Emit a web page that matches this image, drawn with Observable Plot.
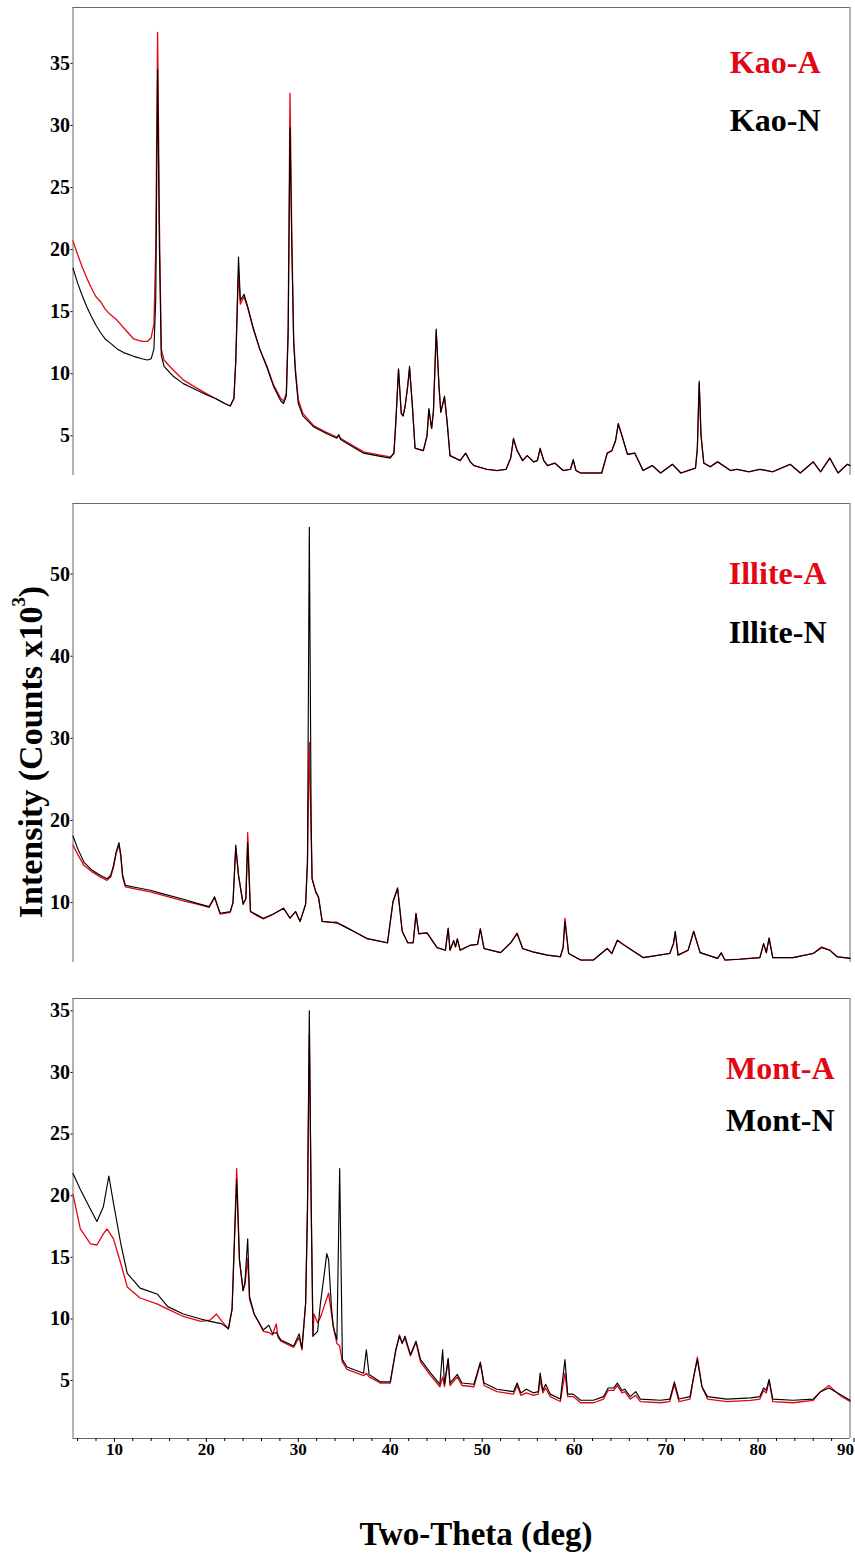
<!DOCTYPE html>
<html><head><meta charset="utf-8">
<script src="https://cdn.jsdelivr.net/npm/d3@7"></script>
<script src="https://cdn.jsdelivr.net/npm/@observablehq/plot@0.6"></script>
<style>
body{margin:0;background:#fff;}
#wrap{position:relative;width:855px;height:1559px;font-family:"Liberation Serif","Times New Roman",serif;}
.panel{position:absolute;left:0;}
.lab{position:absolute;font-weight:bold;white-space:nowrap;color:#000;}
</style></head><body><div id="wrap">
<div class="panel" id="p1" style="top:0px"></div>
<div class="panel" id="p2" style="top:490px"></div>
<div class="panel" id="p3" style="top:985px"></div>
<div class="lab" style="left:31px;top:752px;font-size:34px;transform:translate(-50%,-50%) rotate(-90deg);">Intensity (Counts x10<sup style="font-size:0.55em;vertical-align:0.9em;line-height:0">3</sup>)</div>
<div class="lab" style="left:476px;top:1518px;font-size:33px;line-height:33px;transform:translateX(-50%);">Two-Theta (deg)</div>
</div>
<script>
// ---- data (2θ in degrees, intensity in counts x10^3) ----
const xTicks = [10, 20, 30, 40, 50, 60, 70, 80];
const xLastTick = [90];
const xMinorTicks = [6, 8, 12, 14, 16, 18, 22, 24, 26, 28, 32, 34, 36, 38, 42, 44, 46, 48, 52, 54, 56, 58, 62, 64, 66, 68, 72, 74, 76, 78, 82, 84, 86, 88];
const kaoTicks = [5, 10, 15, 20, 25, 30, 35];
const illiteTicks = [10, 20, 30, 40, 50];
const montTicks = [5, 10, 15, 20, 25, 30, 35];
const seriesLabels = ["Kao-A", "Kao-N", "Illite-A", "Illite-N", "Mont-A", "Mont-N"];

const kaoN = [[5.5,18.5],[6,17.3],[6.5,16.3],[7,15.4],[7.5,14.6],[8,13.9],[8.5,13.3],[9,12.8],[9.5,12.5],[10.3,12.0],[11,11.7],[12.1,11.4],[13,11.2],[13.6,11.1],[14.0,11.2],[14.3,12.0],[14.5,16],[14.7,34.5],[14.9,20],[15.1,11.5],[15.4,10.6],[16,10.1],[16.4,9.8],[17.5,9.2],[18.6,8.8],[20,8.3],[21,8.0],[22,7.6],[22.6,7.4],[23.0,8.0],[23.2,11],[23.5,19.4],[23.7,15.9],[24.1,16.4],[24.5,15.4],[25.1,13.7],[25.8,12.0],[26.6,10.5],[27.3,9.0],[28.1,7.8],[28.4,7.6],[28.7,8.2],[28.9,13.2],[29.1,29.8],[29.3,20],[29.5,12.4],[29.7,10],[30.0,7.6],[30.5,6.6],[31.7,5.7],[33,5.2],[34.2,4.8],[34.4,5.1],[34.6,4.7],[35.5,4.3],[37.1,3.6],[38.5,3.4],[40,3.2],[40.4,3.6],[40.6,6],[40.9,10.4],[41.2,6.8],[41.4,6.6],[41.6,7.3],[41.9,9],[42.1,10.6],[42.4,7.5],[42.7,4.0],[43.6,3.8],[44.0,5],[44.2,7.2],[44.5,5.6],[44.7,7],[45.0,13.6],[45.3,9],[45.5,6.9],[45.9,8.2],[46.2,6],[46.5,3.4],[47.6,3.0],[48.2,3.6],[48.7,2.9],[49.1,2.6],[50.5,2.3],[51.6,2.2],[52.6,2.3],[53.1,3.2],[53.4,4.8],[53.8,3.8],[54.4,3.0],[54.9,3.4],[55.6,2.9],[56.0,3.0],[56.3,4.0],[56.7,3.0],[57.1,2.6],[57.9,2.8],[58.8,2.2],[59.6,2.3],[59.9,3.1],[60.2,2.2],[60.7,2.0],[63,2.0],[63.6,3.6],[64.1,3.8],[64.5,4.6],[64.8,6.0],[65.2,5.0],[65.8,3.5],[66.6,3.6],[67.5,2.2],[68.5,2.6],[69.4,2.0],[70.7,2.7],[71.6,2.0],[73.2,2.4],[73.4,4],[73.6,9.4],[73.8,5],[74.1,2.8],[74.8,2.5],[75.6,2.9],[77,2.2],[77.7,2.3],[79,2.1],[80.2,2.3],[81.6,2.1],[83.5,2.7],[84.6,2.0],[86,2.9],[86.8,2.1],[87.8,3.2],[88.7,2.0],[89.7,2.7],[90,2.6]];
const kaoA = [[5.5,20.7],[6,19.6],[6.5,18.6],[7,17.7],[7.5,16.9],[8,16.2],[8.5,15.8],[9,15.2],[9.5,14.8],[10.3,14.3],[11,13.7],[12.1,12.8],[13,12.6],[13.6,12.6],[14.0,12.9],[14.3,14],[14.5,20],[14.7,37.5],[14.9,22],[15.1,12.0],[15.4,11.1],[16,10.6],[16.4,10.3],[17.5,9.5],[18.6,9.0],[20,8.4],[21,8.0],[22,7.6],[22.6,7.4],[23.0,8.0],[23.2,11],[23.5,18.3],[23.7,15.6],[24.1,16.2],[24.5,15.3],[25.1,13.6],[25.8,12.0],[26.6,10.6],[27.3,9.1],[28.1,8.0],[28.4,7.8],[28.7,8.4],[28.9,13.8],[29.1,32.6],[29.3,21],[29.5,12.8],[29.7,10.3],[30.0,7.9],[30.5,6.8],[31.7,5.8],[33,5.3],[34.2,4.9],[34.4,5.0],[34.6,4.8],[35.5,4.4],[37.1,3.7],[38.5,3.5],[40,3.3],[40.4,3.6],[40.6,6],[40.9,10.3],[41.2,6.8],[41.4,6.6],[41.6,7.3],[41.9,9],[42.1,10.4],[42.4,7.5],[42.7,4.0],[43.6,3.8],[44.0,5],[44.2,7.1],[44.5,5.6],[44.7,7],[45.0,13.4],[45.3,9],[45.5,6.9],[45.9,8.1],[46.2,6],[46.5,3.4],[47.6,3.0],[48.2,3.6],[48.7,2.9],[49.1,2.6],[50.5,2.3],[51.6,2.2],[52.6,2.3],[53.1,3.2],[53.4,4.7],[53.8,3.8],[54.4,3.0],[54.9,3.4],[55.6,2.9],[56.0,3.0],[56.3,3.9],[56.7,3.0],[57.1,2.6],[57.9,2.8],[58.8,2.2],[59.6,2.3],[59.9,3.0],[60.2,2.2],[60.7,2.0],[63,2.0],[63.6,3.6],[64.1,3.8],[64.5,4.6],[64.8,5.9],[65.2,5.0],[65.8,3.5],[66.6,3.6],[67.5,2.2],[68.5,2.6],[69.4,2.0],[70.7,2.7],[71.6,2.0],[73.2,2.4],[73.4,4],[73.6,9.2],[73.8,5],[74.1,2.8],[74.8,2.5],[75.6,2.9],[77,2.2],[77.7,2.3],[79,2.1],[80.2,2.3],[81.6,2.1],[83.5,2.7],[84.6,2.0],[86,2.9],[86.8,2.1],[87.8,3.2],[88.7,2.0],[89.7,2.7],[90,2.6]];

const illiteN = [[5.5,18.1],[6,16.6],[6.7,14.9],[7.5,14.0],[8.5,13.3],[9.2,12.9],[9.6,13.3],[9.9,14.5],[10.2,16.2],[10.5,17.3],[10.7,15.8],[10.9,13.3],[11.2,12.1],[12.5,11.8],[13.9,11.5],[15.5,11.0],[17.5,10.4],[19,9.9],[20.3,9.5],[20.9,10.7],[21.5,8.7],[22.6,8.9],[22.9,10],[23.2,17.0],[23.5,13.3],[24.0,9.8],[24.3,10.5],[24.5,17.3],[24.8,8.9],[25.5,8.5],[26.2,8.1],[27.3,8.6],[28.4,9.3],[29.1,8.1],[29.7,8.9],[30.2,7.7],[30.8,9.8],[31.0,15],[31.2,55.7],[31.4,20],[31.5,12.9],[31.9,11.3],[32.2,10.7],[32.6,7.7],[33.5,7.6],[34.2,7.5],[35,7.1],[36,6.5],[37.5,5.6],[39.7,5.1],[40.3,10.1],[40.8,11.7],[41.3,6.5],[41.9,5.1],[42.5,5.1],[42.8,8.7],[43.1,6.2],[44,6.3],[45.1,4.5],[46,4.2],[46.3,6.9],[46.5,4.2],[46.9,5.4],[47.1,4.6],[47.3,5.6],[47.6,4.2],[48.7,4.8],[49.5,4.9],[49.8,6.8],[50.2,4.4],[52,3.9],[53.1,5.1],[53.8,6.2],[54.4,4.4],[55.5,4.0],[57.1,3.6],[58.5,3.4],[58.8,4.5],[59.0,7.7],[59.4,3.8],[60.7,3.0],[62.1,3.0],[63.6,4.4],[64.1,3.8],[64.7,5.4],[65.2,5.0],[66,4.4],[67.5,3.3],[70.4,3.8],[70.8,5],[71.0,6.5],[71.3,3.6],[72.4,4.2],[73.0,6.5],[73.7,3.9],[75.6,3.2],[76.0,3.9],[76.4,3.0],[78,3.1],[80.2,3.3],[80.6,5.0],[80.9,3.9],[81.2,5.7],[81.6,3.3],[83.8,3.3],[86,3.8],[86.9,4.5],[87.8,4.2],[88.6,3.4],[90,3.2]];
const illiteA = [[5.5,17.0],[6,15.9],[6.7,14.5],[7.5,13.8],[8.5,13.1],[9.2,12.7],[9.6,13.1],[9.9,14.3],[10.2,16.0],[10.5,17.0],[10.7,15.6],[10.9,13.1],[11.2,11.9],[12.5,11.6],[13.9,11.3],[15.5,10.8],[17.5,10.2],[19,9.8],[20.3,9.4],[20.9,10.6],[21.5,8.6],[22.6,8.8],[22.9,10],[23.2,16.7],[23.5,13.3],[24.0,9.8],[24.3,10.5],[24.5,18.5],[24.8,8.9],[25.5,8.4],[26.2,8.0],[27.3,8.6],[28.4,9.3],[29.1,8.1],[29.7,8.9],[30.2,7.7],[30.8,9.8],[31.0,15],[31.2,29.5],[31.4,18],[31.5,12.9],[31.9,11.3],[32.2,10.6],[32.6,7.7],[33.5,7.6],[34.2,7.6],[35,7.1],[36,6.5],[37.5,5.6],[39.7,5.1],[40.3,10.1],[40.8,11.8],[41.3,6.5],[41.9,5.1],[42.5,5.1],[42.8,8.6],[43.1,6.2],[44,6.3],[45.1,4.5],[46,4.2],[46.3,6.8],[46.5,4.2],[46.9,5.3],[47.1,4.6],[47.3,5.5],[47.6,4.2],[48.7,4.8],[49.5,4.9],[49.8,6.8],[50.2,4.4],[52,3.9],[53.1,5.1],[53.8,6.3],[54.4,4.4],[55.5,4.0],[57.1,3.6],[58.5,3.4],[58.8,4.5],[59.0,8.1],[59.4,3.8],[60.7,3.0],[62.1,3.0],[63.6,4.4],[64.1,3.8],[64.7,5.4],[65.2,5.0],[66,4.4],[67.5,3.3],[70.4,3.8],[70.8,5],[71.0,6.4],[71.3,3.6],[72.4,4.2],[73.0,6.5],[73.7,3.9],[75.6,3.2],[76.0,3.8],[76.4,3.0],[78,3.1],[80.2,3.3],[80.6,5.0],[80.9,3.9],[81.2,5.6],[81.6,3.3],[83.8,3.3],[86,3.8],[86.9,4.6],[87.8,4.2],[88.6,3.4],[90,3.2]];

const montN = [[5.5,21.8],[6.3,20.5],[7.4,18.9],[8.1,17.9],[8.8,19.1],[9.4,21.6],[9.9,19.4],[10.7,16.1],[11.4,13.7],[12.8,12.5],[14.7,12.0],[15.8,11.0],[17.5,10.4],[19.4,10.0],[20.4,9.8],[21.1,9.7],[21.7,9.6],[22.4,9.2],[22.8,10.8],[23.3,21.3],[23.6,14.8],[24.0,12.3],[24.2,13],[24.5,16.5],[24.7,11.8],[25.2,10.4],[26.2,9.1],[26.8,9.5],[27.2,8.8],[27.6,8.9],[28.1,8.3],[29.5,7.8],[30.1,8.8],[30.4,7.6],[30.8,11.3],[31.0,18.9],[31.2,35.0],[31.4,19.4],[31.6,8.6],[32.1,9.0],[32.4,11.2],[32.8,13.5],[33.1,15.3],[33.3,14.8],[33.6,11],[33.8,9.4],[34.2,8.3],[34.5,22.2],[34.8,6.7],[35.3,6.1],[37.1,5.6],[37.4,7.5],[37.7,5.5],[38.9,4.9],[40.0,4.9],[40.6,7.5],[41.0,8.6],[41.3,8.0],[41.6,8.6],[42.2,7.1],[42.8,8.2],[43.3,6.7],[44.4,5.6],[45.4,4.7],[45.7,7.5],[45.9,4.7],[46.3,6.8],[46.5,4.8],[47.3,5.5],[47.8,4.8],[49.1,4.7],[49.8,6.5],[50.2,4.8],[51.6,4.3],[53.4,4.1],[53.8,4.8],[54.2,4.0],[54.8,4.3],[55.6,4.0],[56.1,4.1],[56.3,5.6],[56.6,4.2],[56.9,4.7],[57.4,3.9],[58.5,3.5],[59.0,6.7],[59.3,3.9],[59.9,3.9],[60.7,3.4],[62.1,3.4],[63.2,3.7],[63.7,4.4],[64.3,4.4],[64.7,4.8],[65.2,4.2],[65.5,4.3],[66.1,3.7],[66.7,4.1],[67.2,3.5],[69.4,3.4],[70.4,3.5],[70.9,4.9],[71.4,3.5],[72.6,3.7],[73.0,5.3],[73.4,6.7],[73.9,4.5],[74.5,3.7],[76.6,3.5],[79.2,3.6],[80.2,3.7],[80.6,4.4],[80.9,4.2],[81.2,5.1],[81.6,3.5],[83.8,3.4],[86,3.5],[86.8,4.1],[87.7,4.4],[88.9,3.9],[90,3.4]];
const montA = [[5.5,20.1],[6.3,17.3],[7.4,16.1],[8.1,16.0],[8.8,16.9],[9.2,17.3],[9.9,16.5],[10.7,14.5],[11.4,12.6],[12.8,11.7],[14.7,11.2],[15.8,10.8],[17.5,10.2],[19.4,9.8],[20.4,9.9],[21.1,10.4],[21.7,9.8],[22.4,9.2],[22.8,10.8],[23.3,22.2],[23.6,14.8],[24.0,12.3],[24.2,12.8],[24.5,14.9],[24.7,11.6],[25.2,10.4],[26.2,9.0],[26.8,8.9],[27.2,8.7],[27.6,9.6],[27.8,8.5],[28.1,8.2],[29.5,7.7],[30.1,8.5],[30.4,7.5],[30.8,11.3],[31.0,18.9],[31.2,33.1],[31.4,19.4],[31.6,8.6],[31.7,10.4],[32.1,9.7],[32.4,10.1],[32.8,11.0],[33.3,12.1],[33.6,10.5],[33.8,9.4],[34.2,8.0],[34.5,7.8],[34.8,6.5],[35.3,5.9],[37.1,5.4],[37.4,5.6],[37.7,5.3],[38.9,4.8],[40.0,4.8],[40.6,7.4],[41.0,8.7],[41.3,8.1],[41.6,8.4],[42.2,7.0],[42.8,8.1],[43.3,6.5],[44.4,5.4],[45.4,4.5],[45.7,5.3],[45.9,4.5],[46.3,6.7],[46.5,4.6],[47.3,5.3],[47.8,4.6],[49.1,4.5],[49.8,6.4],[50.2,4.6],[51.6,4.1],[53.4,3.9],[53.8,4.6],[54.2,3.8],[54.8,4.0],[55.6,3.8],[56.1,3.9],[56.3,5.1],[56.6,4.0],[56.9,4.4],[57.4,3.7],[58.5,3.3],[59.0,5.6],[59.3,3.7],[59.9,3.7],[60.7,3.2],[62.1,3.2],[63.2,3.5],[63.7,4.2],[64.3,4.2],[64.7,4.6],[65.2,4.0],[65.5,4.1],[66.1,3.5],[66.7,3.8],[67.2,3.3],[69.4,3.2],[70.4,3.3],[70.9,4.7],[71.4,3.3],[72.6,3.5],[73.0,5.3],[73.4,6.9],[73.9,4.5],[74.5,3.5],[76.6,3.3],[79.2,3.4],[80.2,3.5],[80.6,4.2],[80.9,4.0],[81.2,5.0],[81.6,3.3],[83.8,3.2],[86,3.4],[86.8,4.1],[87.7,4.6],[88.9,3.8],[90,3.3]];

// ---- rendering ----
const RED = "#e30613";
const xDomain = [5.5, 90];

function panel(el, cfg) {
  const marks = [
    Plot.ruleX(xDomain, {stroke: "#666", strokeWidth: 1}),
    Plot.ruleY([cfg.yDomain[1]], {stroke: "#666", strokeWidth: 1}),
    Plot.axisY({ticks: cfg.yTicks, tickSize: 2, tickPadding: 1, fontSize: 20, label: null}),
    Plot.line(cfg.A, {stroke: RED, strokeWidth: 1.3}),
    Plot.line(cfg.N, {stroke: "#000", strokeWidth: 1.15}),
    Plot.text([cfg.labelA], {text: d => d, frameAnchor: "top-right", dx: cfg.dx, dy: cfg.dyA, lineAnchor: "bottom", textAnchor: "end", fill: RED, fontSize: 32, fontWeight: "bold"}),
    Plot.text([cfg.labelN], {text: d => d, frameAnchor: "top-right", dx: cfg.dx, dy: cfg.dyN, lineAnchor: "bottom", textAnchor: "end", fill: "#000", fontSize: 32, fontWeight: "bold"})
  ];
  if (cfg.xAxis) {
    marks.push(Plot.ruleY([cfg.yDomain[0]], {stroke: "#666", strokeWidth: 1}));
    marks.push(Plot.axisX({ticks: xMinorTicks, tickSize: 3, tickFormat: () => "", label: null}));
    marks.push(Plot.axisX({ticks: xTicks, tickSize: 4, tickPadding: 0, fontSize: 17, label: null}));
    marks.push(Plot.axisX({ticks: xLastTick, tickSize: 4, tickPadding: 0, fontSize: 17, textAnchor: "end", dx: 4, label: null}));
  }
  const chart = Plot.plot({
    width: 855,
    height: cfg.height,
    marginLeft: 72.5,
    marginRight: 5.5,
    marginTop: cfg.mt,
    marginBottom: cfg.mb,
    x: cfg.xAxis ? {domain: xDomain, label: null} : {domain: xDomain, axis: null},
    y: {domain: cfg.yDomain, label: null},
    style: {fontFamily: '"Liberation Serif", "Times New Roman", serif', fontWeight: "bold", fontSize: "17px", color: "#000", background: "transparent", overflow: "visible"},
    marks
  });
  document.getElementById(el).appendChild(chart);
}

panel("p1", {height: 480, mt: 7, mb: 5, yDomain: [1.8, 39.5], yTicks: kaoTicks, A: kaoA, N: kaoN, labelA: seriesLabels[0], labelN: seriesLabels[1], dx: -29.5, dyA: 65, dyN: 123, xAxis: false});
panel("p2", {height: 490, mt: 13, mb: 18, yDomain: [2.7, 58.6], yTicks: illiteTicks, A: illiteA, N: illiteN, labelA: seriesLabels[2], labelN: seriesLabels[3], dx: -23.5, dyA: 80, dyN: 139, xAxis: false});
panel("p3", {height: 490, mt: 13, mb: 37, yDomain: [0.3, 36], yTicks: montTicks, A: montA, N: montN, labelA: seriesLabels[4], labelN: seriesLabels[5], dx: -15.5, dyA: 80, dyN: 132, xAxis: true});
</script>
</body></html>
